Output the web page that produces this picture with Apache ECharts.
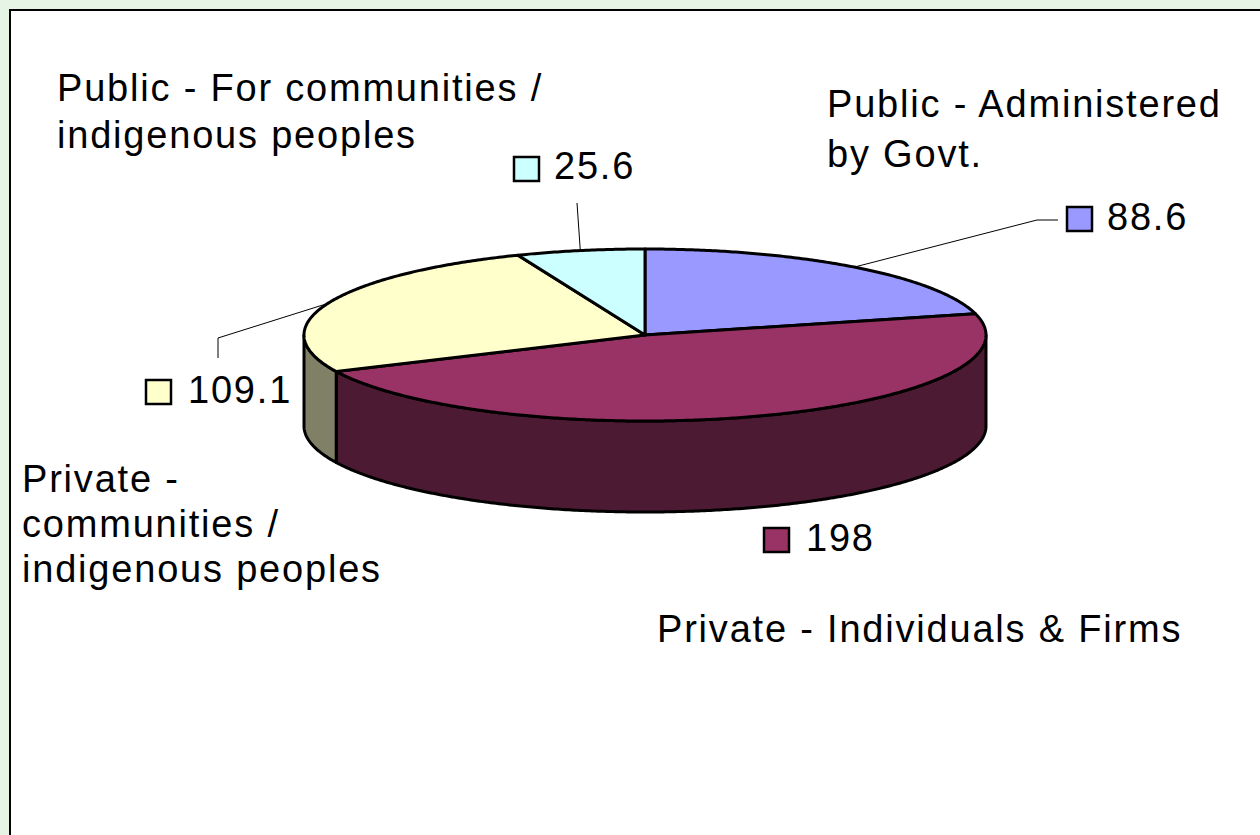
<!DOCTYPE html>
<html>
<head>
<meta charset="utf-8">
<script src="https://cdn.jsdelivr.net/npm/echarts@6/dist/echarts.min.js"></script>
<style>
  html, body { margin: 0; padding: 0; width: 1260px; height: 835px; overflow: hidden; }
  #chart { width: 1260px; height: 835px; }
  /* slightly airy lettering for every label */
  #chart text { letter-spacing: 1.8px; }
</style>
</head>
<body>
<div id="chart"></div>
<script>
// Forest ownership by category (million ha)
const categories = [
  'Public - Administered\nby Govt.',
  'Private - Individuals & Firms',
  'Private -\ncommunities /\nindigenous peoples',
  'Public - For communities /\nindigenous peoples'
];
const values = [88.6, 198, 109.1, 25.6];

// slice styling
const topColors = ['#9999FF', '#993366', '#FFFFCC', '#CCFFFF'];
const sideColors = ['#4D4D80', '#4D1A33', '#808066', '#668080'];

// pie disc geometry (ellipse seen at an angle, plus wall depth)
const CX = 645, CY = 335, RX = 341, RY = 86, DEPTH = 91;
const FONT_SIZE = 38;
const FONT = FONT_SIZE + 'px "Liberation Sans", Arial, sans-serif';
const MID = 0.3465 * FONT_SIZE; // baseline -> vertical middle of the text

// where each slice's key box, value and name go
const layout = [
  { key: [1067, 207], value: [1107, 230], name: [827, 117], lineGap: 50, leader: [[1058, 220], [1037, 220]] },
  { key: [764, 528],  value: [806, 551],  name: [657, 642], lineGap: 47, leader: null },
  { key: [146, 380],  value: [188, 403],  name: [22, 492],  lineGap: 45, leader: [[218, 358], [218, 338]] },
  { key: [514, 157],  value: [554, 179],  name: [57, 101],  lineGap: 47, leader: [[577, 203]] }
];

const total = values.reduce((a, b) => a + b, 0);
const startAngles = [];
values.reduce((acc, v) => { startAngles.push(acc); return acc + v / total * Math.PI * 2; }, 0);

// angle measured clockwise from 12 o'clock
function rim(theta, dy) {
  return [CX + RX * Math.sin(theta), CY - RY * Math.cos(theta) + (dy || 0)];
}
function arc(a0, a1, dy) {
  const n = Math.max(2, Math.ceil((a1 - a0) / (Math.PI / 360)));
  const pts = [];
  for (let k = 0; k <= n; k++) pts.push(rim(a0 + (a1 - a0) * k / n, dy));
  return pts;
}

function renderItem(params, api) {
  const i = params.dataIndex;
  const v = api.value(0);
  const a0 = startAngles[i];
  const a1 = a0 + v / total * Math.PI * 2;
  const children = [];

  // outer wall: only the front half of the disc shows
  const s0 = Math.max(a0, Math.PI / 2);
  const s1 = Math.min(a1, Math.PI * 1.5);
  if (s1 > s0) {
    children.push({
      type: 'polygon',
      shape: { points: arc(s0, s1, 0).concat(arc(s0, s1, DEPTH).reverse()) },
      style: { fill: sideColors[i], stroke: '#000', lineWidth: 3, lineJoin: 'round' }
    });
  }
  // top face
  children.push({
    type: 'polygon',
    shape: { points: [[CX, CY]].concat(arc(a0, a1, 0)) },
    style: { fill: topColors[i], stroke: '#000', lineWidth: 3, lineJoin: 'round' }
  });

  const L = layout[i];
  // leader line to the middle of the slice's rim
  if (L.leader) {
    children.push({
      type: 'polyline',
      shape: { points: L.leader.concat([rim((a0 + a1) / 2, 0)]) },
      style: { stroke: '#000', lineWidth: 1, fill: null }
    });
  }
  // key box + value
  children.push({
    type: 'rect',
    shape: { x: L.key[0], y: L.key[1], width: 25, height: 24 },
    style: { fill: topColors[i], stroke: '#000', lineWidth: 2.5 }
  });
  children.push({
    type: 'text',
    style: {
      text: String(v), x: L.value[0], y: L.value[1] - MID,
      font: FONT, fill: '#000', align: 'left', verticalAlign: 'middle'
    }
  });
  // category name, one element per line
  categories[i].split('\n').forEach((line, k) => {
    children.push({
      type: 'text',
      style: {
        text: line, x: L.name[0], y: L.name[1] + k * L.lineGap - MID,
        font: FONT, fill: '#000', align: 'left', verticalAlign: 'middle'
      }
    });
  });

  return { type: 'group', children: children };
}

const chart = echarts.init(document.getElementById('chart'), null, { renderer: 'svg' });
chart.setOption({
  animation: false,
  backgroundColor: '#E6F4E6',
  graphic: [{
    type: 'rect',
    z: 0,
    silent: true,
    shape: { x: 10, y: 10, width: 1300, height: 900 },
    style: { fill: '#FFFFFF', stroke: '#000', lineWidth: 2 }
  }],
  series: [{
    type: 'custom',
    coordinateSystem: 'none',
    z: 2,
    silent: true,
    data: values,
    renderItem: renderItem
  }]
});
</script>
</body>
</html>
